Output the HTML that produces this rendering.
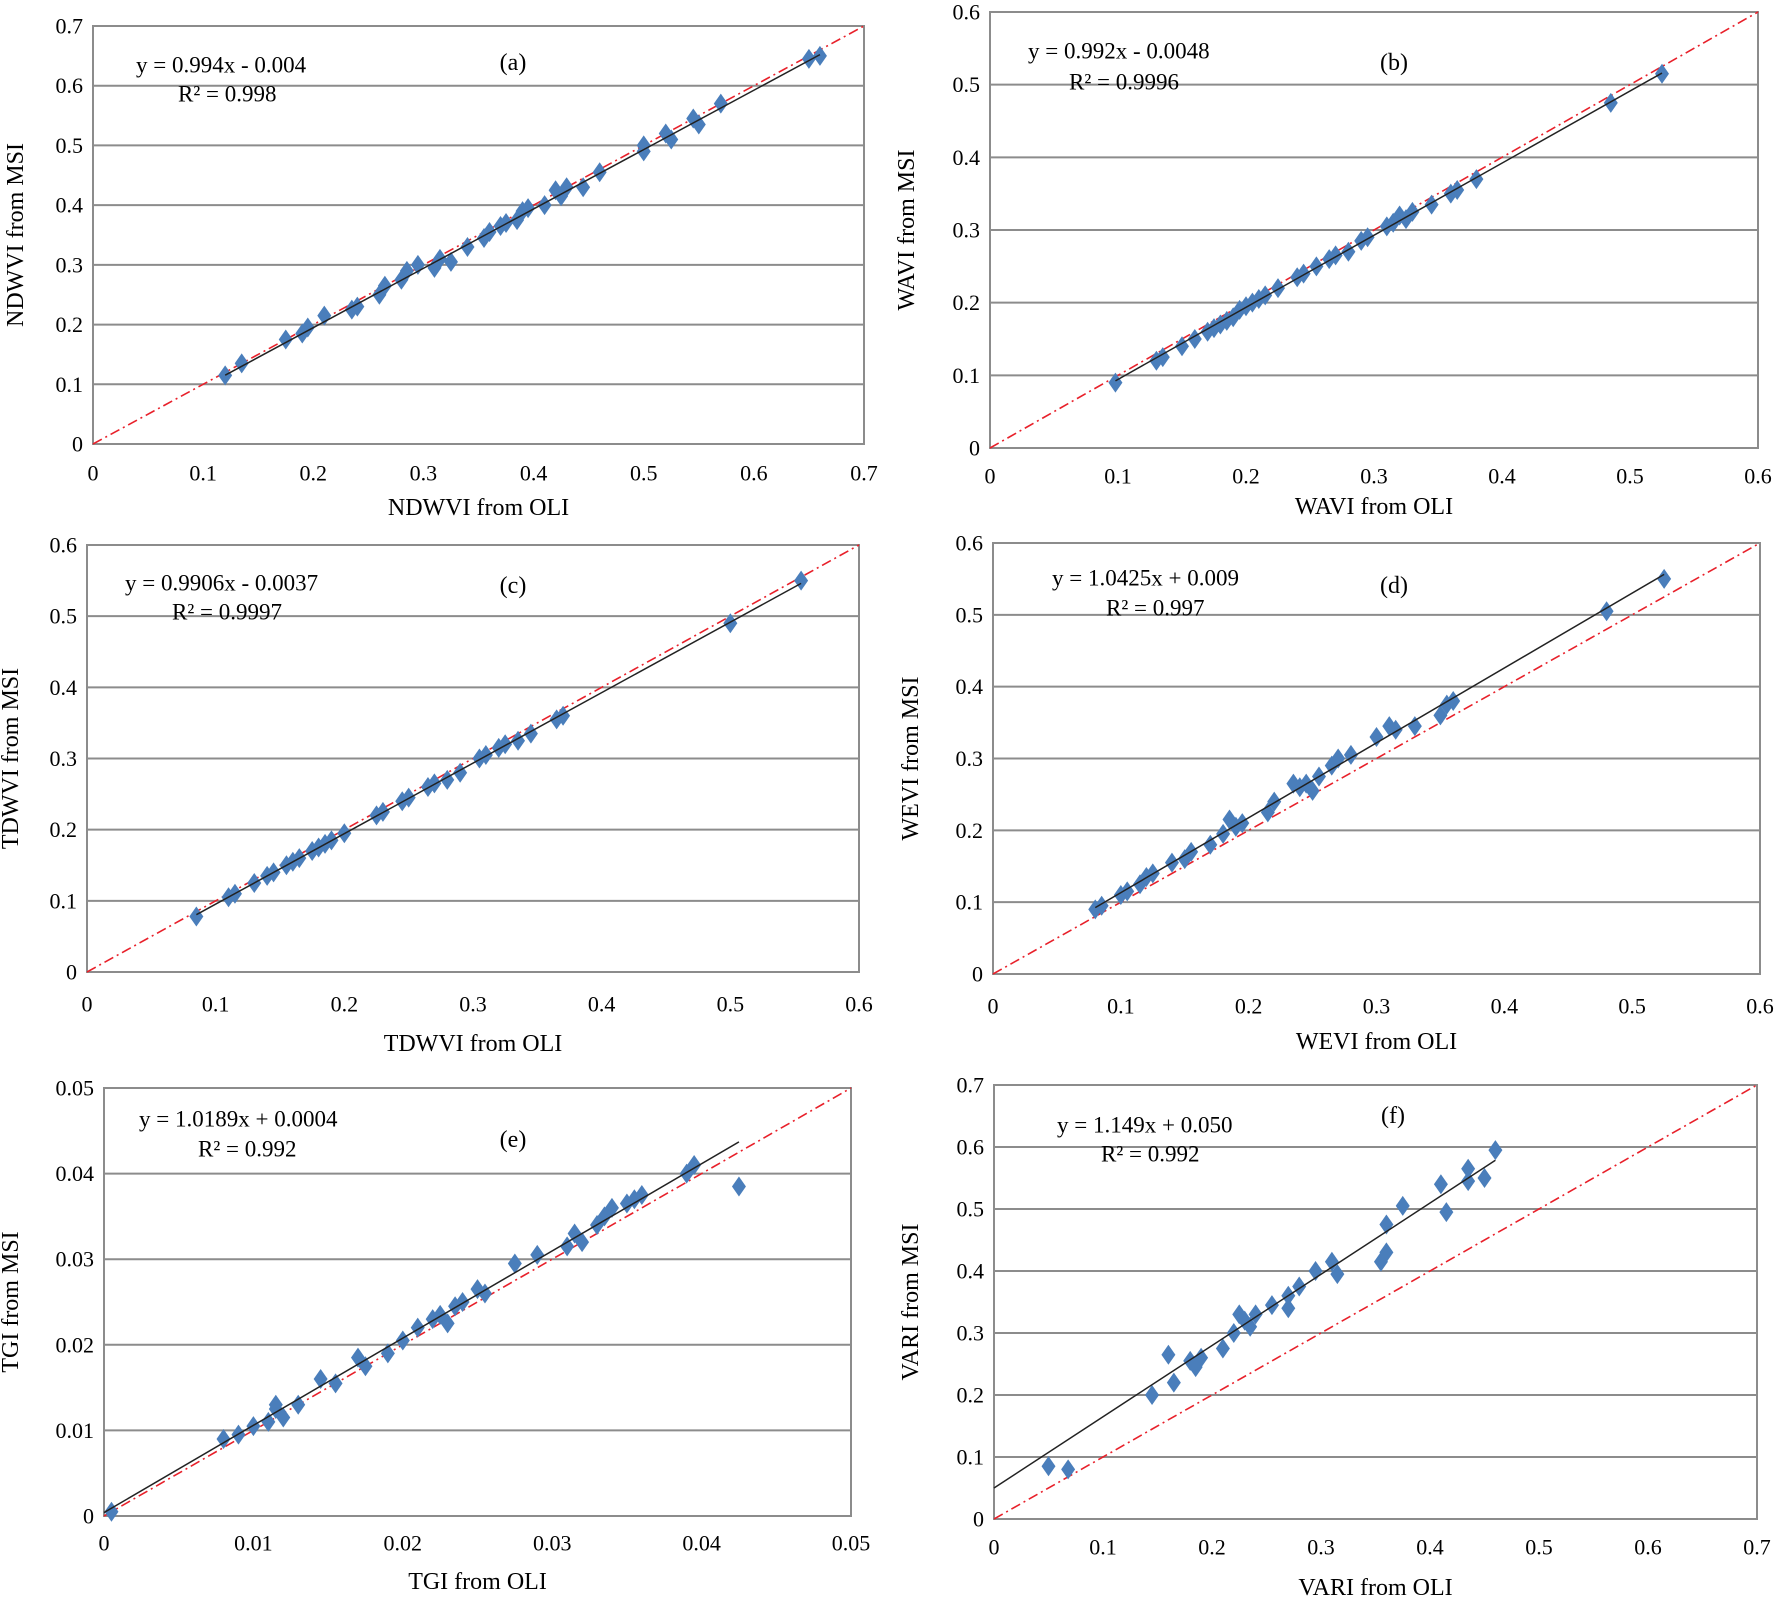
<!DOCTYPE html>
<html><head><meta charset="utf-8">
<style>
html,body{margin:0;padding:0;background:#fff;}
svg{display:block;font-family:"Liberation Serif",serif;}
</style></head>
<body>
<svg id="fig" width="1778" height="1598" viewBox="0 0 1778 1598" xmlns="http://www.w3.org/2000/svg"></svg>
<script>
// ---- data ----
const aX=[0.12,0.135,0.175,0.19,0.195,0.21,0.235,0.24,0.26,0.265,0.28,0.285,0.295,0.31,0.315,0.325,0.34,0.355,0.36,0.37,0.375,0.385,0.39,0.395,0.41,0.42,0.425,0.43,0.445,0.46,0.5,0.5,0.52,0.525,0.545,0.55,0.57,0.65,0.66];
const aY=[0.115,0.135,0.175,0.185,0.195,0.215,0.225,0.23,0.25,0.265,0.275,0.29,0.3,0.295,0.31,0.305,0.33,0.345,0.355,0.365,0.37,0.375,0.39,0.395,0.4,0.425,0.415,0.43,0.43,0.455,0.49,0.5,0.52,0.51,0.545,0.535,0.57,0.645,0.65];
const bX=[0.098,0.13,0.135,0.15,0.16,0.17,0.175,0.18,0.185,0.19,0.195,0.2,0.205,0.21,0.215,0.225,0.24,0.245,0.255,0.265,0.27,0.28,0.29,0.295,0.31,0.315,0.32,0.325,0.33,0.345,0.36,0.365,0.38,0.485,0.525];
const bY=[0.09,0.12,0.125,0.14,0.15,0.16,0.165,0.17,0.175,0.18,0.19,0.195,0.2,0.205,0.21,0.22,0.235,0.24,0.25,0.26,0.265,0.27,0.285,0.29,0.305,0.31,0.32,0.315,0.325,0.335,0.35,0.355,0.37,0.475,0.515];
const cX=[0.085,0.11,0.115,0.13,0.14,0.145,0.155,0.16,0.165,0.175,0.18,0.185,0.19,0.2,0.225,0.23,0.245,0.25,0.265,0.27,0.28,0.29,0.305,0.31,0.32,0.325,0.335,0.345,0.365,0.37,0.5,0.555];
const cY=[0.078,0.105,0.11,0.125,0.135,0.14,0.15,0.155,0.16,0.17,0.175,0.18,0.185,0.195,0.22,0.225,0.24,0.245,0.26,0.265,0.27,0.28,0.3,0.305,0.315,0.32,0.325,0.335,0.355,0.36,0.49,0.55];
const dX=[0.08,0.085,0.1,0.105,0.115,0.12,0.125,0.14,0.15,0.155,0.17,0.18,0.185,0.19,0.195,0.215,0.22,0.235,0.24,0.245,0.25,0.255,0.265,0.27,0.28,0.3,0.31,0.315,0.33,0.35,0.355,0.36,0.48,0.525];
const dY=[0.09,0.095,0.11,0.115,0.125,0.135,0.14,0.155,0.16,0.17,0.18,0.195,0.215,0.205,0.21,0.225,0.24,0.265,0.26,0.265,0.255,0.275,0.29,0.3,0.305,0.33,0.345,0.34,0.345,0.36,0.375,0.38,0.505,0.55];
const eX=[0.0005,0.008,0.009,0.01,0.011,0.0115,0.0115,0.012,0.013,0.0145,0.0155,0.017,0.0175,0.019,0.02,0.021,0.022,0.0225,0.023,0.0235,0.024,0.025,0.0255,0.0275,0.029,0.031,0.0315,0.032,0.033,0.0335,0.034,0.035,0.0355,0.036,0.039,0.0395,0.0425];
const eY=[0.0005,0.009,0.0095,0.0105,0.011,0.0125,0.013,0.0115,0.013,0.016,0.0155,0.0185,0.0175,0.019,0.0205,0.022,0.023,0.0235,0.0225,0.0245,0.025,0.0265,0.026,0.0295,0.0305,0.0315,0.033,0.032,0.034,0.035,0.036,0.0365,0.037,0.0375,0.04,0.041,0.0385];
const fX=[0.05,0.068,0.145,0.16,0.165,0.18,0.185,0.19,0.21,0.22,0.225,0.23,0.235,0.24,0.255,0.27,0.27,0.28,0.295,0.31,0.315,0.355,0.36,0.36,0.375,0.41,0.415,0.435,0.435,0.45,0.46];
const fY=[0.085,0.08,0.2,0.265,0.22,0.255,0.245,0.26,0.275,0.3,0.33,0.32,0.31,0.33,0.345,0.34,0.36,0.375,0.4,0.415,0.395,0.415,0.43,0.475,0.505,0.54,0.495,0.565,0.545,0.55,0.595];
const fitSlope=[0.994,0.992,0.9906,1.0425,1.0189,1.149];
const fitIntercept=[-0.004,-0.0048,-0.0037,0.009,0.0004,0.050];
const fitRange=[[0.12,0.66],[0.098,0.525],[0.085,0.555],[0.08,0.525],[0,0.0425],[0,0.46]];
const axisMax=[0.7,0.6,0.6,0.6,0.05,0.7];
const tickStep=[0.1,0.1,0.1,0.1,0.01,0.1];
const eqText=["y = 0.994x - 0.004","y = 0.992x - 0.0048","y = 0.9906x - 0.0037","y = 1.0425x + 0.009","y = 1.0189x + 0.0004","y = 1.149x + 0.050"];
const r2Text=["R² = 0.998","R² = 0.9996","R² = 0.9997","R² = 0.997","R² = 0.992","R² = 0.992"];
const xTitles=["NDWVI  from OLI","WAVI  from OLI","TDWVI  from OLI","WEVI  from OLI","TGI from OLI","VARI  from OLI"];
const yTitles=["NDWVI  from MSI","WAVI  from MSI","TDWVI  from MSI","WEVI  from MSI","TGI  from MSI","VARI  from MSI"];
const tags=["(a)","(b)","(c)","(d)","(e)","(f)"];
// ---- layout ----
const panels=[
 {id:"a",X:aX,Y:aY,L:93,R:864,T:26,B:444,eq:[136,65],r2:[178,94],tag:[513,63],xt:473,xtt:508,yt:16},
 {id:"b",X:bX,Y:bY,L:990,R:1758,T:12,B:448,eq:[1028,51],r2:[1069,82],tag:[1394,63],xt:476,xtt:507,yt:907},
 {id:"c",X:cX,Y:cY,L:87,R:859,T:545,B:972,eq:[125,583],r2:[172,612],tag:[513,586],xt:1004,xtt:1044,yt:11},
 {id:"d",X:dX,Y:dY,L:993,R:1760,T:543,B:974,eq:[1052,578],r2:[1106,608],tag:[1394,586],xt:1006,xtt:1042,yt:911},
 {id:"e",X:eX,Y:eY,L:104,R:851,T:1088,B:1516,eq:[139,1119],r2:[198,1149],tag:[513,1140],xt:1543,xtt:1582,yt:11},
 {id:"f",X:fX,Y:fY,L:994,R:1757,T:1085,B:1519,eq:[1057,1125],r2:[1101,1154],tag:[1393,1116],xt:1547,xtt:1588,yt:911}
];
const NS="http://www.w3.org/2000/svg";
const svg=document.getElementById('fig');
function mk(tag,attrs,parent){const e=document.createElementNS(NS,tag);for(const k in attrs)e.setAttribute(k,attrs[k]);parent.appendChild(e);return e;}
panels.forEach((p,i)=>{
  const g=mk('g',{},svg);
  
  
  const mx=axisMax[i];
  const sx=v=>p.L+(v/mx)*(p.R-p.L);
  const sy=v=>p.B-(v/mx)*(p.B-p.T);
  const n=Math.round(mx/tickStep[i]);
  const dec=tickStep[i]<0.1?2:1;
  for(let k=0;k<=n;k++){
    const v=k*tickStep[i];
    const gl=mk('line',{x1:p.L,x2:p.R,y1:sy(v),y2:sy(v),stroke:'#8c8c8c','stroke-width':2},g);
    
    
    const lab=k===0?'0':v.toFixed(dec);
    const yl=mk('text',{x:p.L-10,y:sy(v),'text-anchor':'end','dominant-baseline':'central','font-size':22,fill:'#000'},g);
    yl.textContent=lab;
    
    
    const xl=mk('text',{x:sx(v),y:p.xt,'text-anchor':'middle','dominant-baseline':'central','font-size':22,fill:'#000'},g);
    xl.textContent=lab;
    
    
  }
  const fr=mk('rect',{x:p.L,y:p.T,width:p.R-p.L,height:p.B-p.T,fill:'none',stroke:'#8c8c8c','stroke-width':2},g);
  
  
  const one=mk('line',{x1:sx(0),y1:sy(0),x2:sx(mx),y2:sy(mx),stroke:'#e8202a','stroke-width':1.6,'stroke-dasharray':'10,4,2,4'},g);
  
  
  const r=fitRange[i];
  for(let k=0;k<p.X.length;k++){
    const cx=sx(p.X[k]),cy=sy(p.Y[k]);
    const d=mk('path',{d:`M${cx} ${cy-10}L${cx+7} ${cy}L${cx} ${cy+10}L${cx-7} ${cy}Z`,fill:'#4a7ebb'},g);
    
    
  }
  const fit=mk('line',{x1:sx(r[0]),y1:sy(fitSlope[i]*r[0]+fitIntercept[i]),x2:sx(r[1]),y2:sy(fitSlope[i]*r[1]+fitIntercept[i]),stroke:'#222','stroke-width':1.5},g);
  
  
  const eq=mk('text',{x:p.eq[0],y:p.eq[1],'dominant-baseline':'central','font-size':23},g);
  eq.textContent=eqText[i];
  
  
  const r2=mk('text',{x:p.r2[0],y:p.r2[1],'dominant-baseline':'central','font-size':23},g);
  r2.textContent=r2Text[i];
  
  
  const tg=mk('text',{x:p.tag[0],y:p.tag[1],'text-anchor':'middle','dominant-baseline':'central','font-size':24},g);
  tg.textContent=tags[i];
  
  
  const xt=mk('text',{x:(p.L+p.R)/2,y:p.xtt,'text-anchor':'middle','dominant-baseline':'central','font-size':24},g);
  xt.textContent=xTitles[i];
  
  
  const ym=(p.T+p.B)/2;
  const yt=mk('text',{x:p.yt,y:ym,'text-anchor':'middle','dominant-baseline':'central','font-size':24,transform:`rotate(-90 ${p.yt} ${ym})`},g);
  yt.textContent=yTitles[i];
  
  
});
</script>
</body></html>
